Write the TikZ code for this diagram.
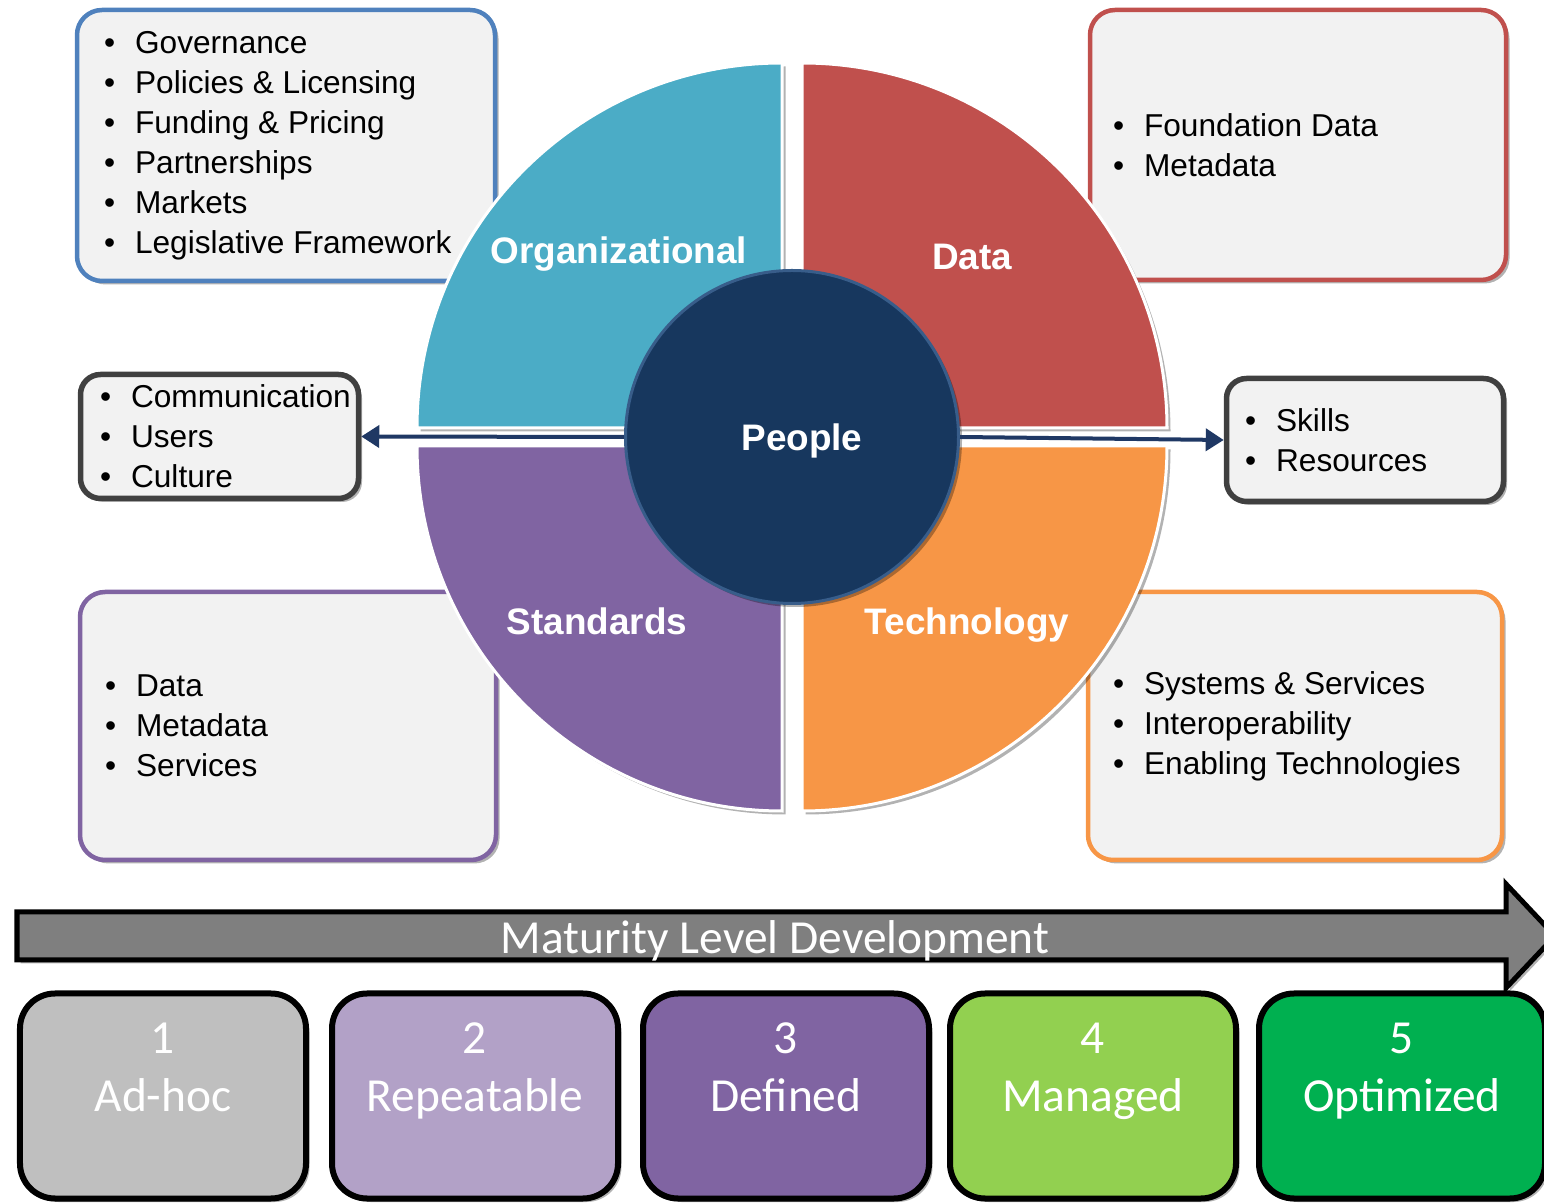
\documentclass[tikz,border=0pt]{standalone}
\usepackage{fontspec}
\setmainfont{Liberation Sans}
\newfontfamily\calibri{Carlito}
\usepackage{tikz}
\usetikzlibrary{arrows.meta,positioning,shadows}

\definecolor{orgblue}{HTML}{4BACC6}
\definecolor{datared}{HTML}{C0504D}
\definecolor{stdpurple}{HTML}{8064A2}
\definecolor{techorange}{HTML}{F79646}
\definecolor{peoplenavy}{HTML}{17375E}
\definecolor{peopleedge}{HTML}{385D8A}
\definecolor{boxblue}{HTML}{4F81BD}
\definecolor{boxgray}{HTML}{F2F2F2}
\definecolor{arrownavy}{HTML}{1F3864}
\definecolor{bargray}{HTML}{7F7F7F}
\definecolor{lvlone}{HTML}{BFBFBF}
\definecolor{lvltwo}{HTML}{B2A1C7}
\definecolor{lvlfour}{HTML}{92D050}
\definecolor{lvlfive}{HTML}{00B050}

\newcommand{\itm}[1]{\makebox[0.62cm][l]{\textbullet}#1}

\begin{document}
\begin{tikzpicture}[>={Triangle[length=0.36cm,width=0.44cm]},
  soft shadow/.style={drop shadow={shadow xshift=0.07cm,shadow yshift=-0.07cm,opacity=0.3,fill=black}},
  list box/.style={rectangle,rounded corners=0.5cm,draw=#1,line width=0.09cm,fill=boxgray,soft shadow},
  list text/.style={anchor=west,align=left,inner sep=0pt,font={\fontsize{18}{22.8}\selectfont}},
  quarter/.style={draw=white,line width=0.06cm,soft shadow},
  quarter label/.style={text=white,text depth=0pt,font={\fontsize{21}{25}\selectfont\bfseries}},
  level box/.style={rectangle,rounded corners=0.7cm,draw=black,line width=0.12cm,
    minimum width=5.72cm,minimum height=4.1cm,soft shadow},
  level text/.style={text=white,align=center,text depth=0pt,font={\calibri\fontsize{27}{32.9}\selectfont}}]

  \useasboundingbox (0,0) rectangle (30.88,24.04);

  \node[list box=boxblue,minimum width=8.36cm,minimum height=5.42cm] (orgbox) at (5.72,21.13) {};
  \node[list box=datared,minimum width=8.32cm,minimum height=5.40cm] (databox) at (25.96,21.14) {};
  \node[list box=black!75,rounded corners=0.4cm,line width=0.11cm,
    minimum width=5.56cm,minimum height=2.48cm] (commbox) at (4.39,15.31) {};
  \node[list box=black!75,rounded corners=0.4cm,line width=0.11cm,
    minimum width=5.54cm,minimum height=2.46cm] (skillbox) at (27.30,15.24) {};
  \node[list box=stdpurple,minimum width=8.32cm,minimum height=5.36cm] (stdbox) at (5.76,9.52) {};
  \node[list box=techorange,minimum width=8.28cm,minimum height=5.36cm] (techbox) at (25.90,9.52) {};

  \node[list text,right=0.58cm of orgbox.west] (orglist)
    {\itm{Governance}\\\itm{Policies \& Licensing}\\\itm{Funding \& Pricing}\\
     \itm{Partnerships}\\\itm{Markets}\\\itm{Legislative Framework}};
  \node[list text,right=0.5cm of databox.west] (datalist)
    {\itm{Foundation Data}\\\itm{Metadata}};
  \node[list text,right=0.44cm of commbox.west] (commlist)
    {\itm{Communication}\\\itm{Users}\\\itm{Culture}};
  \node[list text,right=0.42cm of skillbox.west] (skilllist)
    {\itm{Skills}\\\itm{Resources}};
  \node[list text,right=0.54cm of stdbox.west] (stdlist)
    {\itm{Data}\\\itm{Metadata}\\\itm{Services}};
  \node[list text,right=0.54cm of techbox.west] (techlist)
    {\itm{Systems \& Services}\\\itm{Interoperability}\\\itm{Enabling Technologies}};

  \coordinate (mid) at (15.84,15.30);
  \filldraw[quarter,fill=orgblue] ([shift={(-0.2,0.18)}]mid) -- ++(-7.3,0)
    arc[start angle=180,end angle=90,radius=7.3] -- cycle;
  \filldraw[quarter,fill=datared] ([shift={(0.2,0.18)}]mid) -- ++(7.3,0)
    arc[start angle=0,end angle=90,radius=7.3] -- cycle;
  \filldraw[quarter,fill=stdpurple] ([shift={(-0.2,-0.18)}]mid) -- ++(-7.3,0)
    arc[start angle=180,end angle=270,radius=7.3] -- cycle;
  \filldraw[quarter,fill=techorange] ([shift={(0.2,-0.18)}]mid) -- ++(7.3,0)
    arc[start angle=0,end angle=-90,radius=7.3] -- cycle;

  \node[quarter label] (orglabel) at (12.38,19.04) {Organizational};
  \node[quarter label] (datalabel) at (19.44,18.90) {Data};
  \node[quarter label] (stdlabel) at (11.94,11.62) {Standards};
  \node[quarter label] (techlabel) at (19.34,11.62) {Technology};

  \node[circle,fill=peoplenavy,draw=peopleedge,line width=0.06cm,minimum size=6.66cm,
    soft shadow] (people) at (mid) {};
  \node[quarter label,right=0.2cm of people.center,anchor=center] (peoplelabel) {People};

  \draw[->,arrownavy,line width=0.08cm] (people.west) -- (commbox.east);
  \draw[->,arrownavy,line width=0.08cm] (people.east) -- (skillbox.west);

  \filldraw[draw=black,fill=bargray,line width=0.1cm,soft shadow]
    (0.34,5.80) -- (30.12,5.80) -- (30.12,6.36) -- (31.10,5.32)
    -- (30.12,4.28) -- (30.12,4.84) -- (0.34,4.84) -- cycle;
  \node[level text] (maturity) at (15.50,5.30) {Maturity Level Development};

  \node[level box,fill=lvlone] (lvl1) at (3.26,2.12) {};
  \node[level box,fill=lvltwo] (lvl2) at (9.50,2.12) {};
  \node[level box,fill=stdpurple] (lvl3) at (15.72,2.12) {};
  \node[level box,fill=lvlfour] (lvl4) at (21.86,2.12) {};
  \node[level box,fill=lvlfive] (lvl5) at (28.04,2.12) {};

  \node[level text] (lvl1text) at ([yshift=0.58cm]lvl1.center) {1\\Ad-hoc};
  \node[level text] (lvl2text) at ([yshift=0.58cm]lvl2.center) {2\\Repeatable};
  \node[level text] (lvl3text) at ([yshift=0.58cm]lvl3.center) {3\\Defined};
  \node[level text] (lvl4text) at ([yshift=0.58cm]lvl4.center) {4\\Managed};
  \node[level text] (lvl5text) at ([yshift=0.58cm]lvl5.center) {5\\Optimized};

\end{tikzpicture}
\end{document}
